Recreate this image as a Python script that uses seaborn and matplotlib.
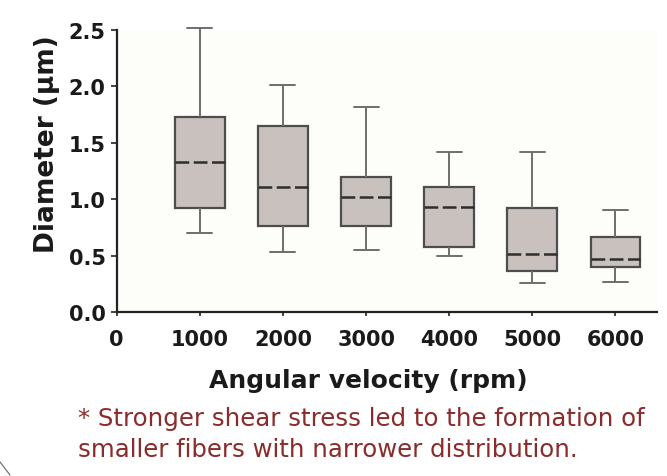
import numpy as np
import pandas as pd
import matplotlib
matplotlib.use("Agg")
import matplotlib.pyplot as plt
import seaborn as sns
from matplotlib.lines import Line2D

# box statistics (diameter in um)
rpm = [1000, 2000, 3000, 4000, 5000, 6000]
whisker_lo = [0.70, 0.535, 0.547, 0.496, 0.258, 0.265]
q1 = [0.92, 0.76, 0.758, 0.579, 0.365, 0.395]
median = [1.33, 1.105, 1.016, 0.93, 0.517, 0.472]
q3 = [1.73, 1.65, 1.195, 1.109, 0.92, 0.666]
whisker_hi = [2.52, 2.01, 1.815, 1.415, 1.415, 0.906]

xticks = [0, 1000, 2000, 3000, 4000, 5000, 6000]
yticks = [0.0, 0.5, 1.0, 1.5, 2.0, 2.5]
note = ("* Stronger shear stress led to the formation of\n"
        "smaller fibers with narrower distribution.")

# five points per group -> min, q1, median, q3, max exactly
rows = []
for i, r in enumerate(rpm):
    for v in (whisker_lo[i], q1[i], median[i], q3[i], whisker_hi[i]):
        rows.append({"rpm": r, "diameter": v})
df = pd.DataFrame(rows)

sns.set_style("ticks")
plt.rcParams["font.family"] = ["DejaVu Sans"]

fig = plt.figure(figsize=(6.67, 4.77), dpi=100, facecolor="white")
ax = fig.add_axes([0.175, 0.344, 0.81, 0.591])

sns.boxplot(data=df, x="rpm", y="diameter", native_scale=True, whis=(0, 100),
            width=0.6, color="#c9c1be", saturation=1, linecolor="#4d4d4d",
            linewidth=1.6, showfliers=False, ax=ax,
            whiskerprops=dict(color="#6e6e6e", linewidth=1.4),
            capprops=dict(color="#6e6e6e", linewidth=1.4),
            medianprops=dict(color="#2e2e2e", linewidth=1.8, linestyle=(0, (5.5, 1.8))))

ax.set_xlim(0, 6500)
ax.set_ylim(0, 2.5)
# let the tallest whisker cap sit just above the axis top
for art in ax.lines + ax.patches:
    art.set_clip_on(False)

ax.set_xticks(xticks)
ax.set_xticklabels([str(t) for t in xticks])
ax.set_yticks(yticks)
ax.set_yticklabels([f"{t:.1f}" for t in yticks])
ax.set_facecolor("#fdfdf9")

for s in ["top", "right"]:
    ax.spines[s].set_visible(False)
for s in ["left", "bottom"]:
    ax.spines[s].set_linewidth(1.6)
    ax.spines[s].set_color("#222222")

ax.tick_params(axis="x", length=3, width=1.2, pad=9, labelsize=15, colors="#222222")
ax.tick_params(axis="y", length=4, width=1.2, pad=4, labelsize=15, colors="#222222")
for lab in ax.get_xticklabels() + ax.get_yticklabels():
    lab.set_fontweight("bold")
    lab.set_color("#1a1a1a")

ax.set_xlabel("Angular velocity (rpm)", fontsize=18, fontweight="bold", color="#1a1a1a")
ax.set_ylabel("Diameter (\u03bcm)", fontsize=19, fontweight="bold", color="#1a1a1a")
ax.xaxis.set_label_coords(0.465, -0.198)
ax.yaxis.set_label_coords(-0.105, 0.60)

fig.text(78 / 667, 1 - 407 / 477, note, fontsize=17.6, color="#8b2b2b",
         ha="left", va="top", linespacing=1.38)

# small stray stroke at the lower left corner
fig.add_artist(Line2D([0, 10 / 667], [1 - 463 / 477, 1 - 476 / 477],
                      color="#666666", linewidth=0.8))

fig.savefig("out.png", dpi=100)
